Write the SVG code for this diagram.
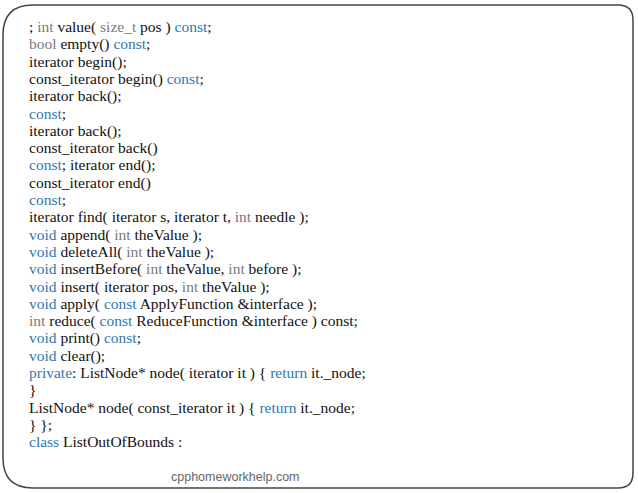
<svg xmlns="http://www.w3.org/2000/svg" width="638" height="493" viewBox="0 0 638 493">
<style>
text{font-family:"Liberation Serif","Times New Roman",serif;font-size:15.5px;fill:#111}
.k{fill:#2f78b0}
.g{fill:#7a7a7a}
text.f{font-family:"Liberation Sans",Arial,sans-serif;font-size:12.5px;fill:#666}
</style>
<rect width="638" height="493" fill="#fff"/>
<g id="frame"><path d="M33 5 H618 Q633 5 633 20 V473 Q633 488 618 488 H33 Q3 488 3 458 V35 Q3 5 33 5 Z" fill="#fff" stroke="#444" stroke-width="1.5"/></g>
<g id="code">
<text x="29" y="32">; <tspan class="g">int</tspan> value( <tspan class="g">size_t</tspan> pos ) <tspan class="k">const</tspan>;</text>
<text x="29" y="49.3"><tspan class="g">bool</tspan> empty() <tspan class="k">const</tspan>;</text>
<text x="29" y="66.6">iterator begin();</text>
<text x="29" y="83.9">const_iterator begin() <tspan class="k">const</tspan>;</text>
<text x="29" y="101.2">iterator back();</text>
<text x="29" y="118.5"><tspan class="k">const</tspan>;</text>
<text x="29" y="135.8">iterator back();</text>
<text x="29" y="153.1">const_iterator back()</text>
<text x="29" y="170.4"><tspan class="k">const</tspan>; iterator end();</text>
<text x="29" y="187.7">const_iterator end()</text>
<text x="29" y="205"><tspan class="k">const</tspan>;</text>
<text x="29" y="222.3">iterator find( iterator s, iterator t, <tspan class="g">int</tspan> needle );</text>
<text x="29" y="239.6"><tspan class="k">void</tspan> append( <tspan class="g">int</tspan> theValue );</text>
<text x="29" y="256.9"><tspan class="k">void</tspan> deleteAll( <tspan class="g">int</tspan> theValue );</text>
<text x="29" y="274.2"><tspan class="k">void</tspan> insertBefore( <tspan class="g">int</tspan> theValue, <tspan class="g">int</tspan> before );</text>
<text x="29" y="291.5"><tspan class="k">void</tspan> insert( iterator pos, <tspan class="g">int</tspan> theValue );</text>
<text x="29" y="308.8"><tspan class="k">void</tspan> apply( <tspan class="k">const</tspan> ApplyFunction &amp;interface );</text>
<text x="29" y="326.1"><tspan class="g">int</tspan> reduce( <tspan class="k">const</tspan> ReduceFunction &amp;interface ) const;</text>
<text x="29" y="343.4"><tspan class="k">void</tspan> print() <tspan class="k">const</tspan>;</text>
<text x="29" y="360.7"><tspan class="k">void</tspan> clear();</text>
<text x="29" y="378"><tspan class="k">private</tspan>: ListNode* node( iterator it ) { <tspan class="k">return</tspan> it._node;</text>
<text x="29" y="395.3">}</text>
<text x="29" y="412.6">ListNode* node( const_iterator it ) { <tspan class="k">return</tspan> it._node;</text>
<text x="29" y="429.9">} };</text>
<text x="29" y="447.2"><tspan class="k">class</tspan> ListOutOfBounds :</text>
</g>
<g id="footer"><text class="f" x="171" y="481">cpphomeworkhelp.com</text></g>
</svg>
